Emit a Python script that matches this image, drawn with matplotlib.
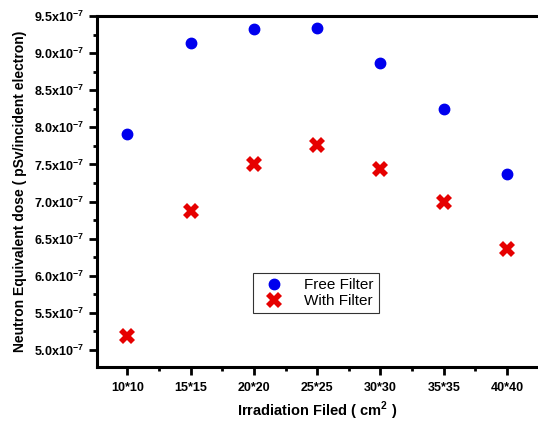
import matplotlib
matplotlib.use("Agg")
import matplotlib.pyplot as plt
from matplotlib.ticker import FuncFormatter, MultipleLocator, AutoMinorLocator

fields = ["10*10", "15*15", "20*20", "25*25", "30*30", "35*35", "40*40"]
free_filter = [7.91e-7, 9.13e-7, 9.33e-7, 9.34e-7, 8.87e-7, 8.25e-7, 7.37e-7]
with_filter = [5.19e-7, 6.87e-7, 7.50e-7, 7.76e-7, 7.44e-7, 6.99e-7, 6.36e-7]

plt.rcParams['font.family'] = ['Liberation Sans', 'DejaVu Sans']

fig = plt.figure(figsize=(5.38, 4.25), dpi=100)
ax = fig.add_axes([97 / 538, 1 - 367 / 425, 1 - 97 / 538, (367 - 16) / 425])

x = list(range(1, len(fields) + 1))
ax.plot(x, free_filter, 'o', color='#0000ee', markersize=7.5, label="Free Filter")
ax.plot(x, with_filter, 'X', color='#e60000', markersize=11, markeredgewidth=0, label="With Filter")

ax.set_xlim(0.52, 7.49)
ax.set_ylim(4.77e-7, 9.5e-7)
ax.set_xticks(x)
ax.set_xticklabels(fields)
ax.xaxis.set_minor_locator(AutoMinorLocator(2))
ax.yaxis.set_major_locator(MultipleLocator(0.5e-7))
ax.yaxis.set_minor_locator(AutoMinorLocator(2))


def fmt(v, pos):
    return r"%.1fx10$^{\mathregular{-7}}$" % (v * 1e7)


ax.yaxis.set_major_formatter(FuncFormatter(fmt))

for s in ['left', 'bottom', 'top']:
    ax.spines[s].set_linewidth(2.2)
ax.spines['right'].set_visible(False)
ax.tick_params(which='major', direction='out', length=6, width=2, labelsize=9)
ax.tick_params(which='minor', direction='out', length=3, width=2)
ax.tick_params(axis='x', pad=5)
for lab in ax.get_xticklabels() + ax.get_yticklabels():
    lab.set_fontweight('bold')

ax.set_xlabel(r"Irradiation Filed ( cm$^{\mathregular{2}}$ )", fontsize=10.5, fontweight='bold', labelpad=4)
ax.set_ylabel("Neutron Equivalent dose ( pSv/incident electron)", fontsize=10, fontweight='bold', labelpad=5)

leg = ax.legend(loc='upper left', bbox_to_anchor=((253 - 97) / 441, 1 - (273 - 16) / 351),
                fontsize=11, frameon=True, fancybox=False, edgecolor='black',
                handletextpad=1.0, borderpad=0.35, labelspacing=0.1, borderaxespad=0)
leg.get_frame().set_linewidth(0.8)

fig.savefig("out.png", dpi=100)
